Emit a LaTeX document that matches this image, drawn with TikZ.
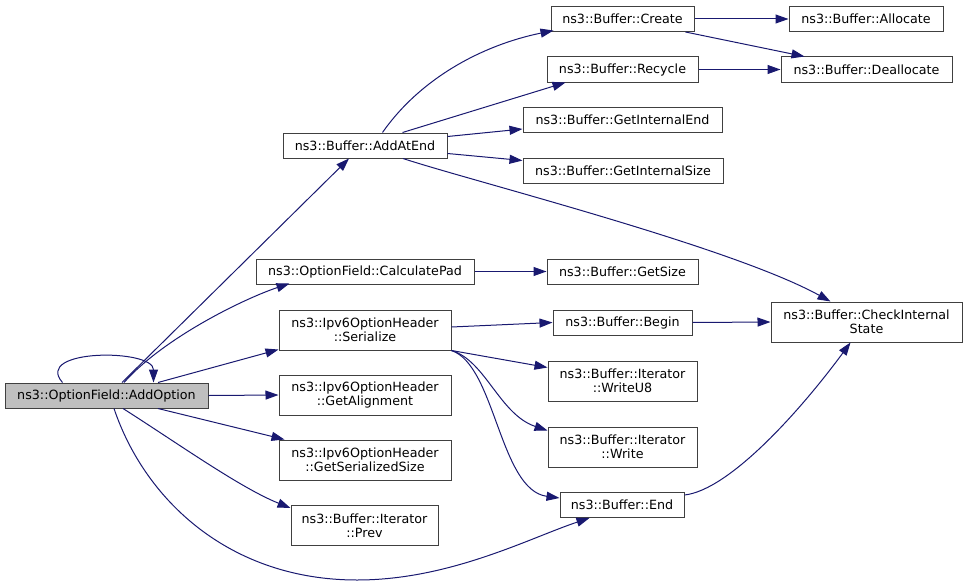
\documentclass[tikz,border=0pt]{standalone}
\usepackage{fontspec}
\setmainfont{DejaVu Sans}
\usetikzlibrary{arrows.meta}
\definecolor{edgec}{HTML}{191970}
\definecolor{boxc}{HTML}{404040}
\definecolor{selc}{HTML}{BFBFBF}
\begin{document}
\begin{tikzpicture}[x=1pt,y=-1pt,
  box/.style={draw=boxc, fill=white, line width=1pt, inner sep=0pt, align=center,
    font=\fontsize{12.7}{14}\selectfont},
  sel/.style={box, fill=selc},
  edge/.style={draw=edgec, line width=1pt, -{Triangle[length=13pt,width=9pt,fill=edgec]}},
]
\useasboundingbox (0,0) rectangle (968,586);

% nodes
\node[sel, minimum width=203, minimum height=25] (ao) at (106.5,395.5) {ns3::OptionField::AddOption};
\node[box, minimum width=164, minimum height=25] (aae) at (365,145.5) {ns3::Buffer::AddAtEnd};
\node[box, minimum width=218, minimum height=25] (cp) at (365,271.5) {ns3::OptionField::CalculatePad};
\node[box, minimum width=172, minimum height=40] (ser) at (365,330) {ns3::Ipv6OptionHeader\\::Serialize};
\node[box, minimum width=172, minimum height=40] (ga) at (365,395) {ns3::Ipv6OptionHeader\\::GetAlignment};
\node[box, minimum width=172, minimum height=40] (gss) at (365,460) {ns3::Ipv6OptionHeader\\::GetSerializedSize};
\node[box, minimum width=147, minimum height=40] (prev) at (364.5,525.5) {ns3::Buffer::Iterator\\::Prev};
\node[box, minimum width=143, minimum height=25] (create) at (622.5,19) {ns3::Buffer::Create};
\node[box, minimum width=154, minimum height=25] (alloc) at (866,19) {ns3::Buffer::Allocate};
\node[box, minimum width=151, minimum height=25] (recyc) at (622.5,69.5) {ns3::Buffer::Recycle};
\node[box, minimum width=171, minimum height=25] (dealloc) at (866.5,69.5) {ns3::Buffer::Deallocate};
\node[box, minimum width=199, minimum height=25] (gie) at (622.5,120) {ns3::Buffer::GetInternalEnd};
\node[box, minimum width=200, minimum height=25] (gis) at (623,170.5) {ns3::Buffer::GetInternalSize};
\node[box, minimum width=151, minimum height=25] (gs) at (622.5,271.5) {ns3::Buffer::GetSize};
\node[box, minimum width=139, minimum height=25] (begin) at (622.5,322.5) {ns3::Buffer::Begin};
\node[box, minimum width=149, minimum height=40] (wu8) at (622.5,381) {ns3::Buffer::Iterator\\::WriteU8};
\node[box, minimum width=149, minimum height=40] (wr) at (622.5,447) {ns3::Buffer::Iterator\\::Write};
\node[box, minimum width=124, minimum height=25] (bend) at (622,505) {ns3::Buffer::End};
\node[box, minimum width=191, minimum height=40] (cis) at (866.5,322) {ns3::Buffer::CheckInternal\\State};

% edges from AddOption
\draw[edge] ([xshift=-44pt]ao.north) .. controls +(-30,-34) and +(0,-34) .. ([xshift=47pt]ao.north);
\draw[edge] ([xshift=15.5pt]ao.north) -- ([xshift=-16pt]aae.south);
\draw[edge] ([xshift=17.5pt]ao.north) .. controls +(40,-45) and +(-45,15) .. ([xshift=34pt,yshift=1pt]cp.south west);
\draw[edge] ([xshift=51.5pt]ao.north) -- ([yshift=1pt]ser.south west);
\draw[edge] (ao.east) -- (ga.west);
\draw[edge] ([xshift=51.5pt]ao.south) -- ([xshift=6pt]gss.north west);
\draw[edge] ([xshift=16.5pt]ao.south) .. controls +(55,35) and +(-50,-20) .. ([yshift=-3pt]prev.north west);
\draw[edge] ([xshift=7.5pt]ao.south) .. controls +(31,92) and +(-127,0) .. (357,580)
  .. controls +(93,0) and +(-60,20) .. ([xshift=30pt]bend.south west);

% edges from AddAtEnd
\draw[edge] ([xshift=100pt]aae.north west) .. controls +(37,-53) and +(-73,15) .. ([xshift=3pt,yshift=1.5pt]create.south west);
\draw[edge] ([xshift=120pt]aae.north west) -- ([xshift=19pt]recyc.south west);
\draw[edge] ([yshift=-4pt]aae.north east) -- ([yshift=-9pt]gie.west);
\draw[edge] ([yshift=5pt]aae.south east) -- ([yshift=10pt]gis.west);
\draw[edge] ([xshift=38pt]aae.south) .. controls +(70,23) and +(-100,-55) .. ([xshift=-36pt]cis.north);

% Create / Recycle
\draw[edge] (create.east) -- (alloc.west);
\draw[edge] ([xshift=-9pt]create.south east) -- ([xshift=24pt]dealloc.north west);
\draw[edge] (recyc.east) -- (dealloc.west);

% CalculatePad
\draw[edge] (cp.east) -- (gs.west);

% Serialize edges
\draw[edge] ([yshift=3pt]ser.east) -- (begin.west);
\draw[edge] (ser.south east) -- ([yshift=-7pt]wu8.north west);
\draw[edge] (ser.south east) .. controls +(34,10) and +(-48,-16) .. ([yshift=-4pt]wr.north west);
\draw[edge] (ser.south east) .. controls +(44,15) and +(-60,-8) .. ([yshift=7pt]bend.west);

% to CheckInternalState
\draw[edge] (begin.east) -- (cis.west);
\draw[edge] ([yshift=-3pt]bend.north east) .. controls +(45,-5) and +(-50,68) .. ([xshift=-16pt]cis.south);
\end{tikzpicture}
\end{document}
